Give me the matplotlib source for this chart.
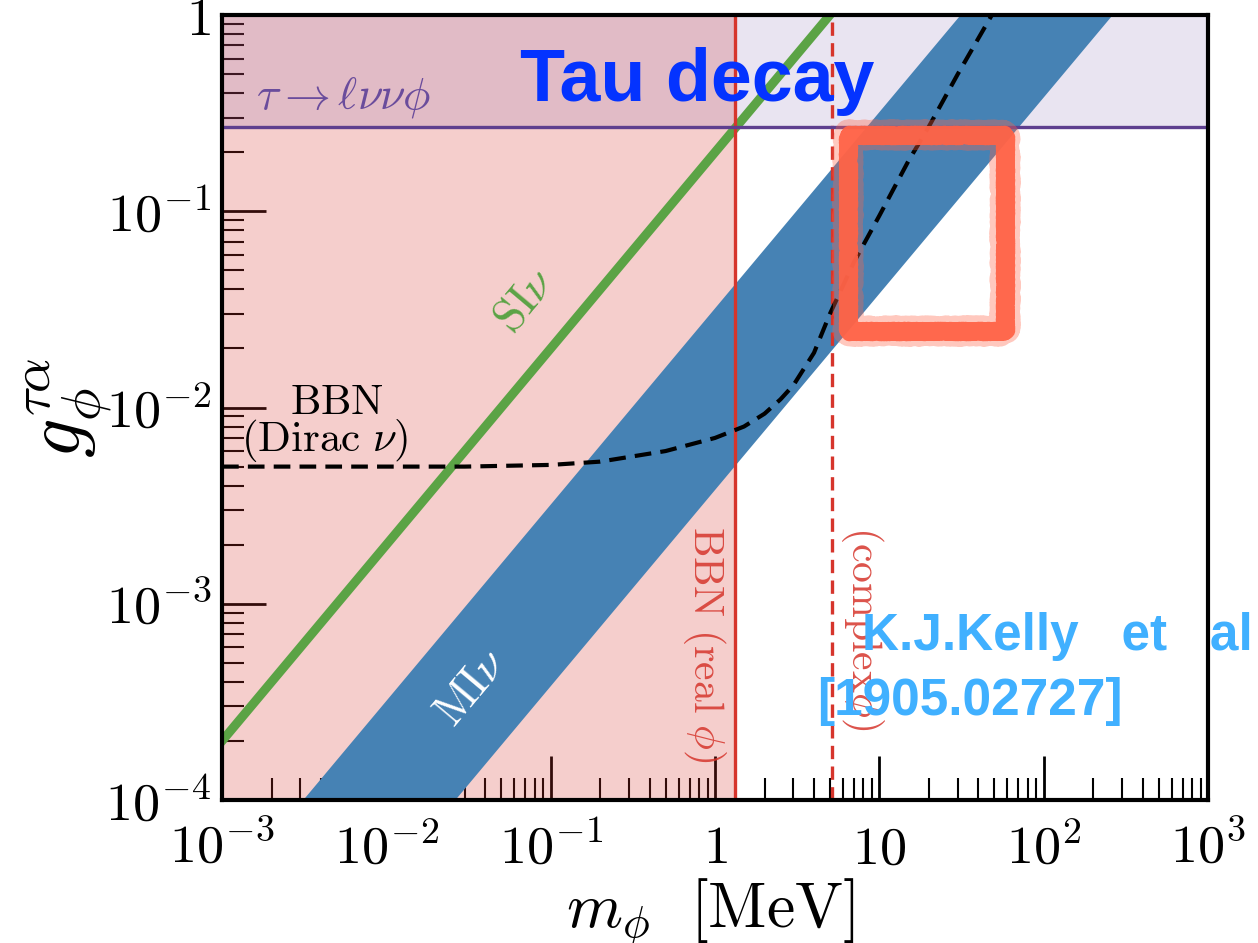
import matplotlib
matplotlib.use("Agg")
import matplotlib.pyplot as plt
from matplotlib.patches import Rectangle

plt.rcParams['mathtext.fontset'] = 'cm'

# axis ranges and ticks
x_ticks = [1e-3, 1e-2, 1e-1, 1, 10, 1e2, 1e3]
x_tick_labels = ['$10^{-3}$', '$10^{-2}$', '$10^{-1}$', '$1$', '$10$', '$10^{2}$', '$10^{3}$']
y_ticks = [1e-4, 1e-3, 1e-2, 1e-1, 1]
y_tick_labels = ['$10^{-4}$', '$10^{-3}$', '$10^{-2}$', '$10^{-1}$', '$1$']

# constraints
bbn_real_m = 1.32          # MeV, BBN bound for real phi
bbn_complex_m = 5.15       # MeV, BBN bound for complex phi
tau_decay_g = 0.27         # tau -> l nu nu phi bound

# SI nu line
si_m = [1e-3, 1e3]
si_g = [2.0e-4, 200.0]

# MI nu band
mi_m = [1e-3, 1e3]
mi_g_low = [3.8e-6, 3.8]
mi_g_high = [3.2e-5, 32.0]

# BBN (Dirac nu) dashed curve
bbn_dirac_m = [1e-3, 0.03, 0.1, 0.2, 0.5, 1.0, 1.5, 2.0, 2.5, 3.0, 4.0, 5.0, 7.0, 10, 15, 20, 30, 50]
bbn_dirac_g = [5.0e-3, 5.0e-3, 5.1e-3, 5.3e-3, 6.0e-3, 7.0e-3, 8.0e-3, 9.3e-3, 1.1e-2,
               1.3e-2, 1.9e-2, 3.0e-2, 5.5e-2, 9.5e-2, 0.18, 0.27, 0.50, 1.05]

# highlighted box
box_m = [6.4, 58.0]
box_g = [0.0245, 0.245]

fig = plt.figure(figsize=(12.58, 9.43), dpi=100)
ax = fig.add_axes([0.1765, 0.1516, 0.7838, 0.8325])
ax.set_xscale('log')
ax.set_yscale('log')
ax.set_xlim(1e-3, 1e3)
ax.set_ylim(1e-4, 1)
ax.set_axisbelow(True)

red = '#d6352c'
purple = '#5e3f8f'

ax.axvspan(1e-3, bbn_real_m, color=red, alpha=0.24, lw=0, zorder=1)
ax.axhspan(tau_decay_g, 1, color='#7a5ca8', alpha=0.16, lw=0, zorder=1)

ax.fill_between(mi_m, mi_g_low, mi_g_high, color='steelblue', lw=0, zorder=2)
ax.plot(si_m, si_g, color='#5ba345', lw=6.5, zorder=3)

ax.axvline(bbn_real_m, color=red, lw=2.4, zorder=4)
ax.axvline(bbn_complex_m, color=red, lw=2.4, ls=(0, (4, 2.2)), zorder=4)
ax.axhline(tau_decay_g, color=purple, lw=2.4, zorder=4)
ax.plot(bbn_dirac_m, bbn_dirac_g, color='black', lw=3, ls=(0, (4, 2.2)), zorder=5)

# hand-drawn looking box: a fuzzy halo under a solid stroke
w = box_m[1] - box_m[0]
h = box_g[1] - box_g[0]
halo = Rectangle((box_m[0], box_g[0]), w, h, fill=False, edgecolor='#ff6347',
                 lw=19, alpha=0.35, zorder=6, joinstyle='round')
halo.set_sketch_params(scale=2.5, length=2, randomness=3)
ax.add_patch(halo)
box = Rectangle((box_m[0], box_g[0]), w, h, fill=False, edgecolor='#ff6347',
                lw=12, alpha=0.95, zorder=6, joinstyle='round')
box.set_sketch_params(scale=1.5, length=3, randomness=1.5)
ax.add_patch(box)

# labels inside the plot
ax.text(1.6e-3, 0.38, r'$\tau \to \ell\nu\nu\phi$', color='#6a4c9c', fontsize=33,
        va='center', ha='left', zorder=7)
ax.text(0.07, 0.035, r'$\mathrm{SI}\nu$', color='#5ba345', fontsize=33, rotation=50,
        ha='center', va='center', zorder=7)
ax.text(0.033, 3.7e-4, r'$\mathrm{MI}\nu$', color='white', fontsize=33, rotation=50,
        ha='center', va='center', zorder=7)
ax.text(5.0e-3, 1.07e-2, r'$\mathrm{BBN}$', color='black', fontsize=31,
        ha='center', va='center', zorder=7)
ax.text(4.24e-3, 6.8e-3, r'$(\mathrm{Dirac}\ \nu)$', color='black', fontsize=31,
        ha='center', va='center', zorder=7)
ax.text(0.86, 2.5e-3, r'$\mathrm{BBN}\ (\mathrm{real}\ \phi)$', color=red, fontsize=30,
        rotation=270, ha='center', va='top', alpha=0.85, zorder=7)
ax.text(7.85, 2.5e-3, r'$(\mathrm{complex}\phi)$', color=red, fontsize=30,
        rotation=270, ha='center', va='top', alpha=0.85, zorder=7)

# axes styling
ax.set_xticks(x_ticks)
ax.set_xticklabels(x_tick_labels)
ax.set_yticks(y_ticks)
ax.set_yticklabels(y_tick_labels)
ax.tick_params(which='major', direction='in', length=32, width=2, labelsize=39,
               top=False, right=False)
ax.tick_params(which='minor', direction='in', length=16, width=1.5,
               top=False, right=False)
ax.tick_params(axis='x', which='major', pad=16)
ax.tick_params(axis='y', which='major', pad=8)
for s in ax.spines.values():
    s.set_linewidth(3)
    s.set_zorder(8)

ax.set_xlabel(r'$m_\phi\ \ [\mathrm{MeV}]$', fontsize=46)
ax.xaxis.set_label_coords(0.495, -0.097)
ax.set_ylabel(r'$g_\phi^{\tau\alpha}$', fontsize=56)
ax.yaxis.set_label_coords(-0.11, 0.5)

fig.text(697 / 1258, 1 - 82 / 943, 'Tau decay', color='#0433ff', fontsize=53,
         fontweight='bold', family='Liberation Sans', ha='center', va='center')
fig.text(862 / 1258, 1 - 650 / 943, 'K.J.Kelly   et   al', color='#40b0ff', fontsize=37,
         fontweight='bold', family='Liberation Sans', ha='left', va='baseline')
fig.text(817 / 1258, 1 - 715 / 943, '[1905.02727]', color='#40b0ff', fontsize=37,
         fontweight='bold', family='Liberation Sans', ha='left', va='baseline')

fig.savefig('out.png', dpi=100)
